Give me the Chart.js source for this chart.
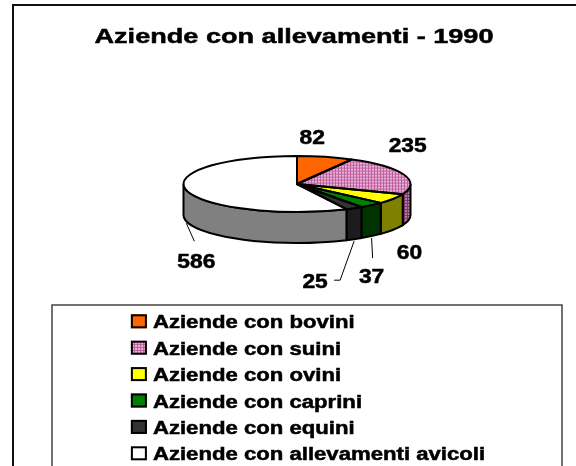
<!DOCTYPE html>
<html>
<head>
<meta charset="utf-8">
<script src="https://cdn.jsdelivr.net/npm/chart.js@4.4.1/dist/chart.umd.min.js"></script>
<style>
html,body{margin:0;padding:0;background:#fff;}
canvas{display:block;}
</style>
</head>
<body>
<canvas id="pieChart" width="576" height="466"></canvas>
<script>
// ================= DATA =================
const titleText = "Aziende con allevamenti - 1990"
const categories = ["Aziende con bovini","Aziende con suini","Aziende con ovini","Aziende con caprini","Aziende con equini","Aziende con allevamenti avicoli"]
const values = [82,235,60,37,25,586]

// ================= STYLE =================
const W = 576, H = 466
const cx = 297, cy = 184, rx = 113.5, ry = 28, depth = 31
const FONT = "'Liberation Sans', Arial, sans-serif"
const topColors  = ["#ff6600","pattern","#ffff00","#008000","#333333","#ffffff"]
const sideColors = ["#993d00","pattern","#808000","#003300","#1c1c1c","#808080"]
// label position relative to the slice anchor (rim point), and leader points relative to label centre
const labelShift = [[-13,-20],[4,-29],[16,22],[0,40],[-39,42],[10,40]]
const leaders = [null,null,null,[[1,-18]],[[25,-1],[19,-1]],[[-2,-20]]]

let ctx = document.getElementById("pieChart").getContext("2d")

function gridPattern(cell, line, sy){
let c = document.createElement("canvas")
c.width = 3; c.height = 3
let g = c.getContext("2d")
g.fillStyle = line; g.fillRect(0,0,3,3)
g.fillStyle = cell; g.fillRect(0,0,2,2)
let p = ctx.createPattern(c,"repeat")
if(sy) p.setTransform(new DOMMatrix().scale(1,sy))
return p
}

const k = ry / rx
const topFill = topColors.map(c => c==="pattern" ? gridPattern("#e6b3d6","#c0609f",1/k) : c)
const sideFill = sideColors.map(c => c==="pattern" ? gridPattern("#b07aa0","#7a3a68") : c)
const legendFill = topColors.map(c => c==="pattern" ? gridPattern("#e6b3d6","#c0609f") : c)

function stretchText(txt, x, y, size, sx, align){
ctx.save()
ctx.translate(x,y)
ctx.scale(sx,1)
ctx.font = "bold " + size + "px " + FONT
ctx.textAlign = align
ctx.textBaseline = "alphabetic"
ctx.fillStyle = "#000"
ctx.strokeStyle = "#000"
ctx.lineWidth = 0.5
ctx.fillText(txt,0,0)
ctx.strokeText(txt,0,0)
ctx.restore()
}

// ================= 3D PIE PLUGIN =================
const pie3d = {
id:"pie3d",

beforeDraw(chart){
let c = chart.ctx
// outer frame (only left + top visible)
c.save()
c.strokeStyle = "#111"
c.lineWidth = 2
c.beginPath()
c.moveTo(13, H+5)
c.lineTo(13, 5)
c.lineTo(W+5, 5)
c.stroke()
c.restore()
stretchText(titleText, 294, 42.5, 21, 1.29, "center")
},

beforeDatasetsDraw(chart){
let c = chart.ctx
let arcs = chart.getDatasetMeta(0).data
// side walls of the front half
arcs.forEach((arc,i)=>{
let s = Math.max(arc.startAngle, 0)
let e = Math.min(arc.endAngle, Math.PI)
if(e <= s) return
c.beginPath()
c.ellipse(arc.x, arc.y, arc.outerRadius, ry, 0, s, e)
c.ellipse(arc.x, arc.y + depth, arc.outerRadius, ry, 0, e, s, true)
c.closePath()
c.fillStyle = sideFill[i]
c.fill()
c.lineWidth = 2
c.strokeStyle = "#000"
c.stroke()
})
// squash the pie top into an ellipse
let a = arcs[0]
c.save()
c.translate(0, a.y)
c.scale(1, ry / a.outerRadius)
c.translate(0, -a.y)
},

afterDatasetsDraw(chart){
let c = chart.ctx
c.restore()
let arcs = chart.getDatasetMeta(0).data

// top outlines
c.save()
c.lineWidth = 2
c.strokeStyle = "#000"
c.lineJoin = "round"
arcs.forEach(arc=>{
c.beginPath()
c.moveTo(arc.x, arc.y)
c.ellipse(arc.x, arc.y, arc.outerRadius, ry, 0, arc.startAngle, arc.endAngle)
c.closePath()
c.stroke()
})
c.restore()

// data labels
arcs.forEach((arc,i)=>{
let mid = (arc.startAngle + arc.endAngle) / 2
let front = Math.sin(mid) > 0
let ax = arc.x + arc.outerRadius * Math.cos(mid)
let ay = arc.y + ry * Math.sin(mid) + (front ? depth : 0)
let lx = ax + labelShift[i][0]
let ly = ay + labelShift[i][1]
if(leaders[i]){
c.save()
c.strokeStyle = "#000"
c.lineWidth = 1
c.beginPath()
c.moveTo(ax, ay + 2)
leaders[i].forEach(p => c.lineTo(lx + p[0], ly + p[1]))
c.stroke()
c.restore()
}
stretchText(String(values[i]), lx, ly + 7, 19.5, 1.17, "center")
})
},

afterDraw(chart){
let c = chart.ctx
// legend box
let bx = 52, by = 305, bw = 510
c.save()
c.strokeStyle = "#444"
c.lineWidth = 1.5
c.strokeRect(bx, by, bw, H)
c.restore()

let size = 18, sx = 1.23, rowH = 26.4, base0 = 328.3
c.font = "bold " + size + "px " + FONT
let maxW = 0
categories.forEach(t => maxW = Math.max(maxW, c.measureText(t).width * sx))
let itemW = 17 + 5 + maxW
let x0 = bx + bw/2 - itemW/2 + 1

categories.forEach((t,i)=>{
let base = base0 + i*rowH
c.save()
c.fillStyle = legendFill[i]
c.fillRect(x0, base - 14, 16, 14)
c.strokeStyle = "#000"
c.lineWidth = 2
c.strokeRect(x0 + 1, base - 13, 14, 12)
c.restore()
stretchText(t, x0 + 22, base, size, sx, "left")
})
}
}

// ================= CHART =================
new Chart(ctx,{
type:"pie",
data:{
labels:categories,
datasets:[{
data:values,
backgroundColor:topFill,
borderWidth:0,
hoverOffset:0,
clip:false
}]
},
options:{
responsive:false,
animation:false,
devicePixelRatio:1,
events:[],
layout:{padding:{left:cx-rx, right:W-cx-rx, top:cy-rx, bottom:H-cy-rx}},
plugins:{
legend:{display:false},
title:{display:false},
tooltip:{enabled:false}
}
},
plugins:[pie3d]
})
</script>
</body>
</html>
